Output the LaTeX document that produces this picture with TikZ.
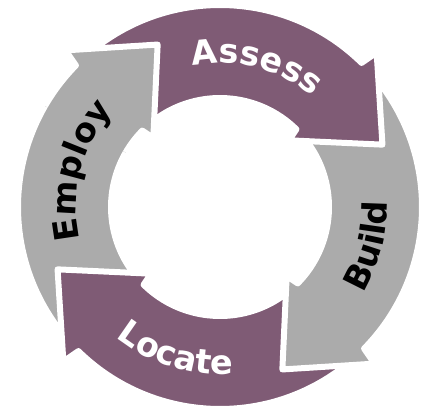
\documentclass[tikz,border=0pt]{standalone}
\usepackage{fontspec}
\usetikzlibrary{decorations.text}
\newfontfamily\cyclefam{DejaVu Sans}
\newcommand\cyclefont{\cyclefam\bfseries\fontsize{33.5}{40}\selectfont}
\definecolor{plum}{HTML}{7F5B75}
\definecolor{stone}{HTML}{ABABAB}
% one block arrow of the cycle, turned by #1
\newcommand\cyclearrow[2]{%
  \fill[#2,blockedge,rotate=#1]
    (126.4:202) arc[start angle=126.4,end angle=45.5,radius=202]
    -- (44.6:220) -- (21:174) -- (44:96) -- (45.5:109)
    arc[start angle=45.5,end angle=126.4,radius=109] -- cycle;}

\begin{document}
\begin{tikzpicture}[x=1pt,y=1pt,
  blockedge/.style={draw=white,line width=6pt,line join=round},
  outtext/.style={decorate,decoration={text along path,text align=center,
    text color=#1}}]
  \useasboundingbox (0,0) rectangle (425,410);
  \begin{scope}[shift={(220,203)}]
  \cyclearrow{90}{stone}
  \cyclearrow{180}{plum}
  \cyclearrow{-90}{stone}
  \cyclearrow{0}{plum}
  \begin{scope}
    \clip (0,0) -- (100:240) arc[start angle=100,end angle=150,radius=240] -- cycle;
    \cyclearrow{90}{stone}
  \end{scope}

  \path[outtext=white,decoration={text={|\cyclefont|Assess}}]
    (115.5:144) arc[start angle=115.5,end angle=35.5,radius=144];
  \path[outtext=black,decoration={text={|\cyclefont|Build}}]
    (-54.5:167) arc[start angle=-54.5,end angle=25.5,radius=167];
  \path[outtext=white,decoration={text={|\cyclefont|Locate}}]
    (213:167) arc[start angle=213,end angle=293,radius=167];
  \path[outtext=black,decoration={text={|\cyclefont|Employ}}]
    (205.5:144) arc[start angle=205.5,end angle=125.5,radius=144];
  \end{scope}
\end{tikzpicture}
\end{document}
